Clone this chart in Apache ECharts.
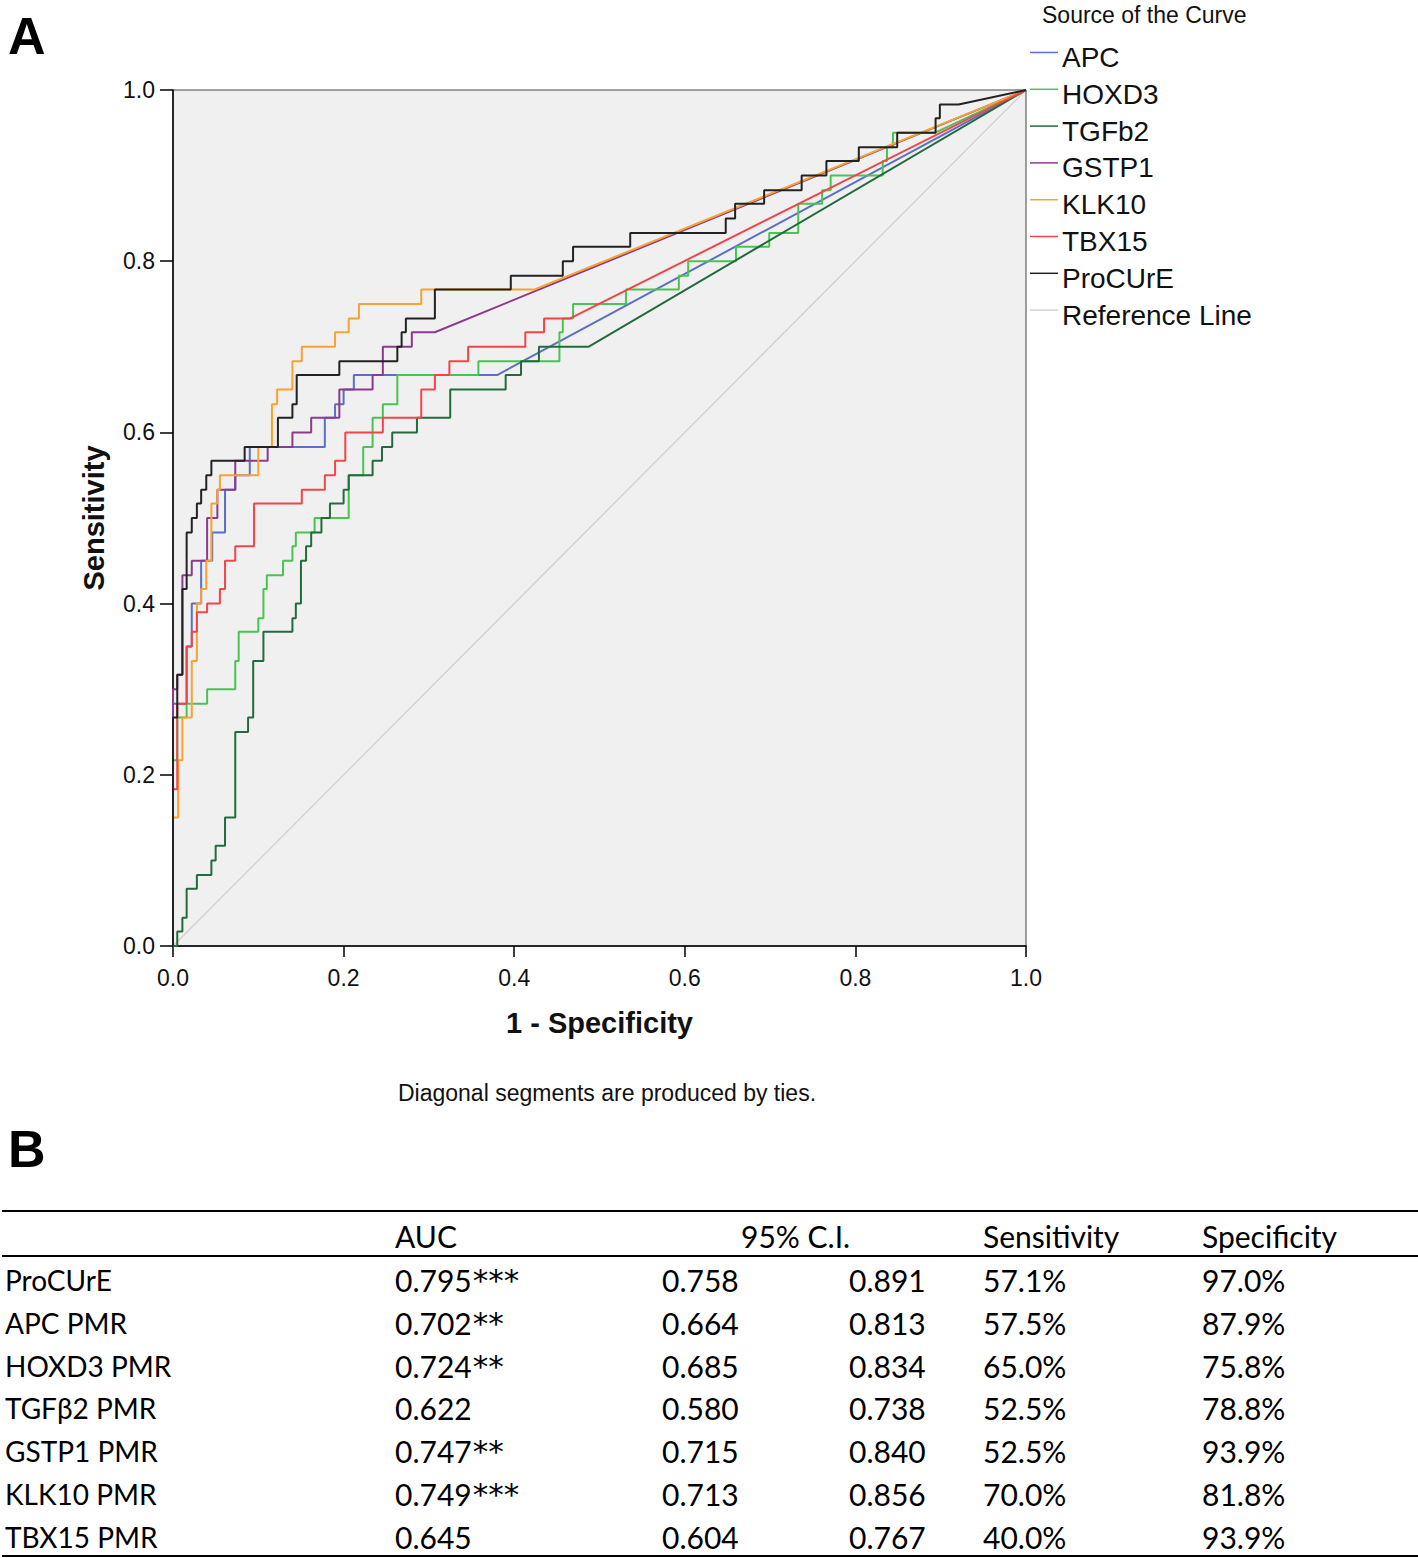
<!DOCTYPE html>
<html><head><meta charset="utf-8">
<script src="https://cdn.jsdelivr.net/npm/echarts/dist/echarts.min.js"></script>
<style>html,body{margin:0;padding:0;background:#fff;} #chart{width:1418px;height:1558px;}</style>
</head><body><div id="chart"></div>
<script>
// ---------- DATA ----------
const seriesNames = ['APC','HOXD3','TGFb2','GSTP1','KLK10','TBX15','ProCUrE','Reference Line'];
const axisTicks = [0, 0.2, 0.4, 0.6, 0.8, 1.0];

const apcRoc = [[0,0],[0,0.283],[0.016,0.283],[0.016,0.35],[0.022,0.35],[0.022,0.4],[0.033,0.4],[0.033,0.45],[0.046,0.45],[0.046,0.483],[0.061,0.483],[0.061,0.533],[0.073,0.533],[0.073,0.55],[0.09,0.55],[0.09,0.583],[0.178,0.583],[0.178,0.617],[0.19,0.617],[0.19,0.633],[0.2,0.633],[0.2,0.65],[0.212,0.65],[0.212,0.667],[0.38,0.667],[1,1]];

const hoxd3Roc = [[0,0],[0,0.217],[0.005,0.217],[0.005,0.267],[0.016,0.267],[0.016,0.283],[0.04,0.283],[0.04,0.3],[0.073,0.3],[0.073,0.333],[0.077,0.333],[0.077,0.367],[0.1,0.367],[0.1,0.383],[0.106,0.383],[0.106,0.417],[0.11,0.417],[0.11,0.433],[0.129,0.433],[0.129,0.45],[0.14,0.45],[0.14,0.467],[0.144,0.467],[0.144,0.483],[0.166,0.483],[0.166,0.5],[0.206,0.5],[0.206,0.55],[0.223,0.55],[0.223,0.583],[0.234,0.583],[0.234,0.617],[0.246,0.617],[0.246,0.633],[0.263,0.633],[0.263,0.667],[0.358,0.667],[0.358,0.683],[0.453,0.683],[0.453,0.717],[0.457,0.717],[0.457,0.733],[0.469,0.733],[0.469,0.75],[0.531,0.75],[0.531,0.767],[0.593,0.767],[0.593,0.783],[0.604,0.783],[0.604,0.8],[0.66,0.8],[0.66,0.817],[0.699,0.817],[0.699,0.833],[0.733,0.833],[0.733,0.867],[0.761,0.867],[0.761,0.883],[0.771,0.883],[0.771,0.9],[0.832,0.9],[0.832,0.917],[0.837,0.917],[0.837,0.933],[0.844,0.933],[0.844,0.95],[0.893,0.95],[1,1]];

const tgfb2Roc = [[0,0],[0.005,0],[0.005,0.017],[0.011,0.017],[0.011,0.033],[0.016,0.033],[0.016,0.067],[0.028,0.067],[0.028,0.083],[0.045,0.083],[0.045,0.1],[0.05,0.1],[0.05,0.117],[0.061,0.117],[0.061,0.15],[0.073,0.15],[0.073,0.25],[0.088,0.25],[0.088,0.267],[0.094,0.267],[0.094,0.333],[0.106,0.333],[0.106,0.367],[0.14,0.367],[0.14,0.383],[0.144,0.383],[0.144,0.4],[0.15,0.4],[0.15,0.45],[0.156,0.45],[0.156,0.467],[0.162,0.467],[0.162,0.483],[0.174,0.483],[0.174,0.5],[0.184,0.5],[0.184,0.517],[0.2,0.517],[0.2,0.533],[0.206,0.533],[0.206,0.55],[0.234,0.55],[0.234,0.567],[0.245,0.567],[0.245,0.583],[0.257,0.583],[0.257,0.6],[0.286,0.6],[0.286,0.617],[0.325,0.617],[0.325,0.65],[0.39,0.65],[0.39,0.667],[0.408,0.667],[0.408,0.683],[0.429,0.683],[0.429,0.7],[0.487,0.7],[1,1]];

const gstp1Roc = [[0,0],[0,0.3],[0.005,0.3],[0.005,0.317],[0.011,0.317],[0.011,0.433],[0.022,0.433],[0.022,0.45],[0.04,0.45],[0.04,0.5],[0.052,0.5],[0.052,0.533],[0.073,0.533],[0.073,0.567],[0.111,0.567],[0.111,0.583],[0.14,0.583],[0.14,0.6],[0.162,0.6],[0.162,0.617],[0.195,0.617],[0.195,0.65],[0.234,0.65],[0.234,0.667],[0.246,0.667],[0.246,0.7],[0.28,0.7],[0.28,0.717],[0.307,0.717],[1,1]];

const klk10Roc = [[0,0],[0,0.15],[0.006,0.15],[0.006,0.217],[0.011,0.217],[0.011,0.267],[0.022,0.267],[0.022,0.333],[0.028,0.333],[0.028,0.4],[0.033,0.4],[0.033,0.417],[0.039,0.417],[0.039,0.45],[0.045,0.45],[0.045,0.517],[0.052,0.517],[0.052,0.533],[0.055,0.533],[0.055,0.55],[0.1,0.55],[0.1,0.583],[0.116,0.583],[0.116,0.633],[0.122,0.633],[0.122,0.65],[0.14,0.65],[0.14,0.683],[0.151,0.683],[0.151,0.7],[0.19,0.7],[0.19,0.717],[0.206,0.717],[0.206,0.733],[0.218,0.733],[0.218,0.75],[0.291,0.75],[0.291,0.767],[0.424,0.767],[1,1]];

const tbx15Roc = [[0,0],[0,0.183],[0.005,0.183],[0.005,0.283],[0.016,0.283],[0.016,0.35],[0.022,0.35],[0.022,0.367],[0.028,0.367],[0.028,0.39],[0.04,0.39],[0.04,0.4],[0.055,0.4],[0.055,0.417],[0.061,0.417],[0.061,0.45],[0.073,0.45],[0.073,0.467],[0.095,0.467],[0.095,0.517],[0.151,0.517],[0.151,0.533],[0.178,0.533],[0.178,0.55],[0.19,0.55],[0.19,0.567],[0.202,0.567],[0.202,0.6],[0.246,0.6],[0.246,0.617],[0.291,0.617],[0.291,0.65],[0.307,0.65],[0.307,0.667],[0.324,0.667],[0.324,0.683],[0.346,0.683],[0.346,0.7],[0.413,0.7],[0.413,0.717],[0.435,0.717],[0.435,0.733],[0.465,0.733],[1,1]];

const procureRoc = [[0,0],[0,0.267],[0.005,0.267],[0.005,0.317],[0.011,0.317],[0.011,0.417],[0.016,0.417],[0.016,0.483],[0.022,0.483],[0.022,0.5],[0.028,0.5],[0.028,0.517],[0.033,0.517],[0.033,0.533],[0.039,0.533],[0.039,0.55],[0.045,0.55],[0.045,0.567],[0.084,0.567],[0.084,0.583],[0.123,0.583],[0.123,0.617],[0.14,0.617],[0.14,0.633],[0.145,0.633],[0.145,0.667],[0.195,0.667],[0.195,0.683],[0.263,0.683],[0.263,0.7],[0.268,0.7],[0.268,0.717],[0.273,0.717],[0.273,0.733],[0.307,0.733],[0.307,0.767],[0.396,0.767],[0.396,0.783],[0.457,0.783],[0.457,0.8],[0.469,0.8],[0.469,0.817],[0.536,0.817],[0.536,0.833],[0.648,0.833],[0.648,0.85],[0.659,0.85],[0.659,0.867],[0.693,0.867],[0.693,0.883],[0.737,0.883],[0.737,0.9],[0.766,0.9],[0.766,0.917],[0.804,0.917],[0.804,0.933],[0.849,0.933],[0.849,0.95],[0.894,0.95],[0.894,0.967],[0.899,0.967],[0.899,0.983],[0.921,0.983],[1,1]];

const referenceLine = [[0,0],[1,1]];

// Table (panel B)
const tableHeaders = ['AUC','95% C.I.','Sensitivity','Specificity'];
const tableRows = ['ProCUrE','APC PMR','HOXD3 PMR','TGFβ2 PMR','GSTP1 PMR','KLK10 PMR','TBX15 PMR'];
const aucText = ['0.795***','0.702**','0.724**','0.622','0.747**','0.749***','0.645'];
const ciLower = ['0.758','0.664','0.685','0.580','0.715','0.713','0.604'];
const ciUpper = ['0.891','0.813','0.834','0.738','0.840','0.856','0.767'];
const sensText = ['57.1%','57.5%','65.0%','52.5%','52.5%','70.0%','40.0%'];
const specText = ['97.0%','87.9%','75.8%','78.8%','93.9%','81.8%','93.9%'];

// ---------- STYLE ----------
const curveData = [apcRoc, hoxd3Roc, tgfb2Roc, gstp1Roc, klk10Roc, tbx15Roc, procureRoc, referenceLine];
const colors = ['#5b6fc6','#48c450','#236b3c','#8b3b8e','#f7a232','#f2454a','#222222','#d2d2d2'];
const drawOrder = [7,0,1,2,3,4,5,6];
const sansFont = '"Liberation Sans", Arial, sans-serif';
const tableFont = 'Lato, "Open Sans", sans-serif';

const chart = echarts.init(document.getElementById('chart'), null, {renderer:'svg', width:1418, height:1558});

const series = drawOrder.map(i => ({
  name: seriesNames[i], type: 'line', data: curveData[i],
  showSymbol: false, symbol: 'none', animation: false, silent: true,
  lineStyle: {color: colors[i], width: i === 7 ? 1.5 : 2},
  itemStyle: {color: colors[i]}, z: 2 + drawOrder.indexOf(i)
}));

const graphics = [];
graphics.push({type:'text', left: 8, top: 10, style:{text:'A', font:'bold 52px ' + sansFont, fill:'#000'}});
graphics.push({type:'text', left: 8, top: 1123, style:{text:'B', font:'bold 52px ' + sansFont, fill:'#000'}});
graphics.push({type:'text', x: 1042, y: 15, style:{text:'Source of the Curve', font:'23px ' + sansFont, fill:'#111', verticalAlign:'middle'}});
seriesNames.forEach((n, i) => {
  const yy = 52.5 + 36.8 * i;
  graphics.push({type:'line', shape:{x1:1030, y1:yy, x2:1058, y2:yy}, style:{stroke: colors[i], lineWidth: 1.5}});
  graphics.push({type:'text', x: 1062, y: yy + 5, style:{text:n, font:'28px ' + sansFont, fill:'#111', verticalAlign:'middle'}});
});
graphics.push({type:'text', x: 607, y: 1093, style:{text:'Diagonal segments are produced by ties.', font:'23px ' + sansFont, fill:'#111', align:'center', verticalAlign:'middle'}});

// table
graphics.push({type:'line', shape:{x1:2, y1:1211, x2:1418, y2:1211}, style:{stroke:'#000', lineWidth:2}});
graphics.push({type:'line', shape:{x1:2, y1:1256, x2:1418, y2:1256}, style:{stroke:'#000', lineWidth:2}});
graphics.push({type:'line', shape:{x1:2, y1:1556, x2:1418, y2:1556}, style:{stroke:'#000', lineWidth:2}});
const headerX = [395, 741, 983, 1202];
tableHeaders.forEach((h, i) => {
  graphics.push({type:'text', x: headerX[i], y: 1236, style:{text:h, font:'30px ' + tableFont, fill:'#000', verticalAlign:'middle'}});
});
const colX = [5, 395, 662, 849, 983, 1202];
tableRows.forEach((r, j) => {
  const yy = 1280 + 42.8 * j;
  graphics.push({type:'text', x: colX[0], y: yy, style:{text:r, font:'28px ' + tableFont, fill:'#000', verticalAlign:'middle'}});
  const m = aucText[j].match(/^([0-9.]+)(\**)$/);
  graphics.push({type:'text', x: colX[1], y: yy, style:{
    text: m[2] ? '{v|' + m[1] + '}{s|' + m[2] + '}' : '{v|' + m[1] + '}',
    verticalAlign:'middle',
    rich: {v:{font:'30px ' + tableFont, fill:'#000', color:'#000'}, s:{font:'31px "DejaVu Sans", sans-serif', fill:'#000', color:'#000', padding:[0,0,0,1]}}
  }});
  [ciLower[j], ciUpper[j], sensText[j], specText[j]].forEach((t, k) => {
    graphics.push({type:'text', x: colX[k + 2], y: yy, style:{text:t, font:'30px ' + tableFont, fill:'#000', verticalAlign:'middle'}});
  });
});

chart.setOption({
  animation: false,
  backgroundColor: '#ffffff',
  grid: {left: 173, top: 90, width: 853, height: 856, show: true, backgroundColor: '#f0f0f0', borderColor: '#444', borderWidth: 1},
  xAxis: {
    type: 'value', min: 0, max: 1, interval: 0.2,
    axisLine: {show: true, onZero: false, lineStyle: {color: '#000', width: 1.5}},
    axisTick: {show: true, length: 11, lineStyle: {color: '#000', width: 1.5}},
    axisLabel: {formatter: v => axisTicks.includes(+v.toFixed(1)) ? v.toFixed(1) : '', fontSize: 23, fontFamily: sansFont, color: '#111', margin: 20},
    splitLine: {show: false},
    name: '1 - Specificity', nameLocation: 'middle', nameGap: 62,
    nameTextStyle: {fontSize: 29, fontWeight: 'bold', fontFamily: sansFont, color: '#111'}
  },
  yAxis: {
    type: 'value', min: 0, max: 1, interval: 0.2,
    axisLine: {show: true, onZero: false, lineStyle: {color: '#000', width: 1.5}},
    axisTick: {show: true, length: 13, lineStyle: {color: '#000', width: 1.5}},
    axisLabel: {formatter: v => v.toFixed(1), fontSize: 23, fontFamily: sansFont, color: '#111', margin: 18},
    splitLine: {show: false},
    name: 'Sensitivity', nameLocation: 'middle', nameGap: 65,
    nameTextStyle: {fontSize: 29, fontWeight: 'bold', fontFamily: sansFont, color: '#111'}
  },
  series: series,
  graphic: graphics
});
</script>
</body></html>
